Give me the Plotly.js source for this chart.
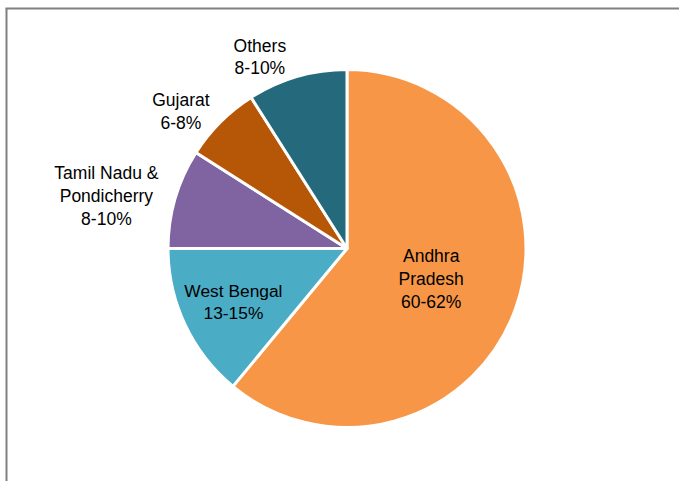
<!DOCTYPE html>
<html>
<head>
<meta charset="utf-8">
<script src="https://cdn.plot.ly/plotly-3.0.1.min.js"></script>
<style>html,body{margin:0;padding:0;background:#fff;}#chart{width:679px;height:481px;}</style>
</head>
<body>
<div id="chart"></div>
<script>
var regions = ['Andhra<br>Pradesh', 'West Bengal', 'Tamil Nadu &<br>Pondicherry', 'Gujarat', 'Others'];
var shareRanges = ['60-62%', '13-15%', '8-10%', '6-8%', '8-10%'];
var shareValues = [61, 14, 9, 7, 9];
var sliceColors = ['#F79646', '#4BACC6', '#8064A2', '#B65708', '#256A7C'];
var labelPositions = ['inside', 'inside', 'outside', 'outside', 'outside'];

var labelText = regions.map(function (r, i) { return r + '<br>' + shareRanges[i]; });

var fontSpec = { family: 'Liberation Sans, Arial, sans-serif', size: 17.5, color: '#000000' };

var trace = {
  type: 'pie',
  labels: regions,
  values: shareValues,
  text: labelText,
  textinfo: 'text',
  hoverinfo: 'label+percent',
  textposition: labelPositions,
  insidetextorientation: 'horizontal',
  sort: false,
  direction: 'clockwise',
  rotation: 0,
  marker: { colors: sliceColors, line: { color: '#ffffff', width: 3 } },
  textfont: fontSpec,
  insidetextfont: fontSpec,
  outsidetextfont: fontSpec,
  domain: { x: [0.2474, 0.7747], y: [0.1113, 0.8555] },
  showlegend: false
};

var layout = {
  width: 679,
  height: 481,
  margin: { l: 0, r: 0, t: 0, b: 0 },
  paper_bgcolor: '#ffffff',
  showlegend: false,
  font: { family: 'Liberation Sans, Arial, sans-serif', color: '#000000' },
  shapes: [
    { type: 'line', xref: 'paper', yref: 'paper', x0: 6.5/679, x1: 6.5/679, y0: 0, y1: 1 - 8.5/481, line: { color: '#808080', width: 2 } },
    { type: 'line', xref: 'paper', yref: 'paper', x0: 5.5/679, x1: 1, y0: 1 - 8.5/481, y1: 1 - 8.5/481, line: { color: '#808080', width: 2 } }
  ]
};

Plotly.newPlot('chart', [trace], layout, { displayModeBar: false, staticPlot: true });
</script>
</body>
</html>
